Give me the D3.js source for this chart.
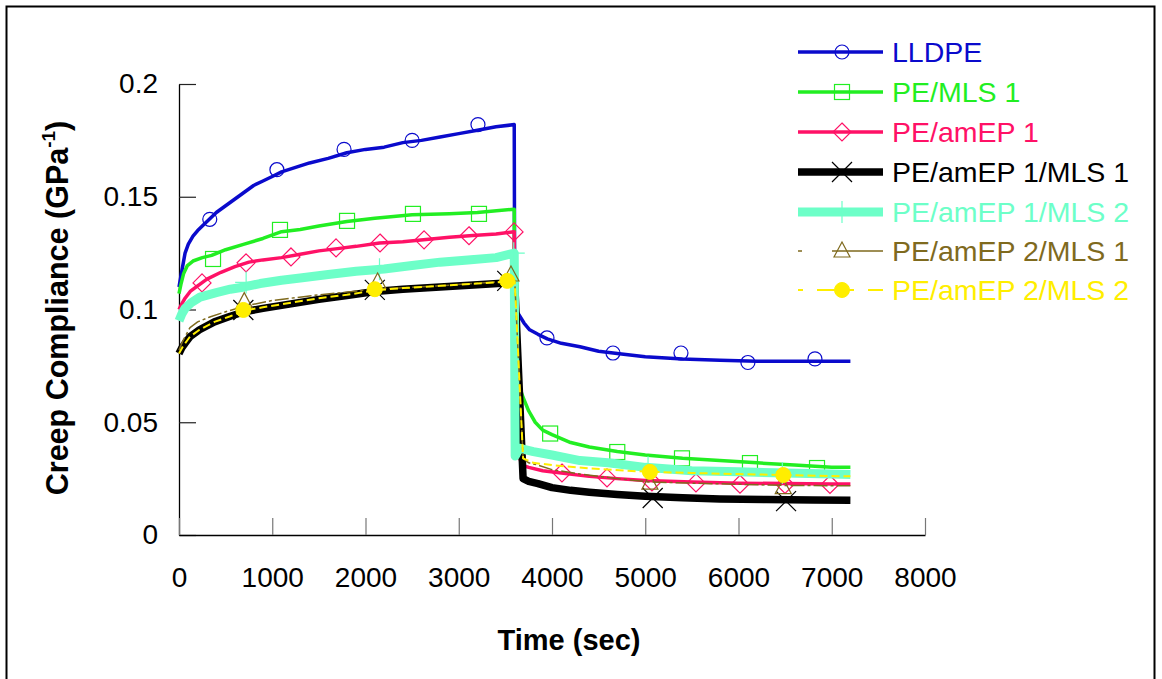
<!DOCTYPE html>
<html>
<head>
<meta charset="utf-8">
<script src="https://cdn.jsdelivr.net/npm/d3@7"></script>
<style>
  body { margin: 0; background: #fff; }
  svg { display: block; }
  text { font-family: "Liberation Sans", Arial, sans-serif; }
</style>
</head>
<body>
<svg id="chart" width="1162" height="679"></svg>
<script>
// Creep (0–3600 s) and recovery (3600–7200 s) compliance, [time s, GPa^-1]
const seriesNames = ["LLDPE", "PE/MLS 1", "PE/amEP 1", "PE/amEP 1/MLS 1",
                     "PE/amEP 1/MLS 2", "PE/amEP 2/MLS 1", "PE/amEP 2/MLS 2"];

const lldpe = [[0,0.110],[30,0.117],[65,0.125],[100,0.129],[150,0.1325],[200,0.135],[300,0.139],
  [400,0.143],[500,0.146],[600,0.149],[700,0.152],[800,0.155],[900,0.157],[1000,0.159],[1100,0.161],
  [1250,0.163],[1400,0.165],[1600,0.167],[1800,0.1695],[2000,0.171],[2200,0.172],[2400,0.174],
  [2600,0.175],[2800,0.1765],[3000,0.178],[3200,0.1795],[3400,0.181],[3595,0.182],
  [3600,0.101],[3640,0.098],[3700,0.094],[3760,0.091],[3850,0.089],[3950,0.087],[4100,0.085],
  [4300,0.0835],[4500,0.0815],[4700,0.0805],[5000,0.079],[5400,0.078],[5800,0.0775],[6200,0.077],
  [6800,0.077],[7200,0.077]];
const lldpeMarks = [[330,0.140],[1050,0.162],[1770,0.171],[2500,0.175],[3206,0.182],
  [3946,0.0874],[4654,0.0807],[5383,0.0807],[6101,0.0765],[6820,0.0781]];

const peMls1 = [[0,0.107],[20,0.111],[50,0.116],[90,0.1195],[150,0.1215],[250,0.123],[350,0.124],
  [500,0.1265],[700,0.129],[900,0.1315],[1100,0.1345],[1300,0.1355],[1500,0.137],[1800,0.139],
  [2100,0.1405],[2500,0.142],[2900,0.1425],[3200,0.143],[3595,0.1445],
  [3600,0.072],[3690,0.061],[3750,0.055],[3820,0.050],[3900,0.0465],[4000,0.0445],[4200,0.041],
  [4400,0.039],[4700,0.037],[5000,0.0355],[5400,0.034],[5800,0.033],[6200,0.032],[6600,0.031],
  [7000,0.030],[7200,0.030]];
const peMls1Marks = [[365,0.1224],[1083,0.1353],[1802,0.1393],[2509,0.1424],[3217,0.1424],
  [3980,0.045],[4700,0.0368],[5394,0.034],[6123,0.0319],[6842,0.0297]];

const peAmEp1 = [[0,0.100],[30,0.1025],[65,0.105],[120,0.108],[200,0.1105],[300,0.1135],[450,0.1165],
  [600,0.119],[750,0.121],[900,0.122],[1100,0.123],[1300,0.1245],[1500,0.126],[1700,0.127],
  [1900,0.128],[2150,0.1295],[2400,0.130],[2650,0.131],[2900,0.132],[3150,0.1328],[3400,0.1335],
  [3595,0.1345],
  [3605,0.040],[3680,0.031],[3750,0.030],[3900,0.0285],[4100,0.0275],[4400,0.026],[4700,0.025],
  [5000,0.0242],[5500,0.0235],[6000,0.023],[6500,0.0228],[7000,0.0226],[7200,0.0226]];
const peAmEp1Marks = [[247,0.1118],[719,0.1207],[1201,0.1233],[1684,0.1273],[2156,0.1295],
  [2628,0.1309],[3110,0.1327],[3593,0.1344],[4107,0.0275],[4590,0.0253],[5072,0.0235],
  [5544,0.0231],[6016,0.0225],[6499,0.0224],[6981,0.0224]];

const peAmEp1Mls1 = [[0,0.0805],[30,0.083],[65,0.085],[120,0.088],[220,0.091],[380,0.0945],
  [550,0.097],[700,0.099],[900,0.1005],[1200,0.1025],[1500,0.1045],[1800,0.1062],[2100,0.108],
  [2400,0.109],[2800,0.110],[3200,0.111],[3600,0.112],
  [3690,0.025],[3750,0.0238],[3850,0.0228],[4000,0.021],[4200,0.0198],[4400,0.019],[4700,0.018],
  [5000,0.0172],[5400,0.0165],[5800,0.016],[6300,0.0157],[6800,0.0155],[7200,0.0154]];
const peAmEp1Mls1Marks = [[690,0.0998],[2100,0.1087],[3520,0.1127],[5080,0.0164],[6510,0.0150]];

const peAmEp1Mls2 = [[0,0.095],[30,0.098],[65,0.1005],[130,0.103],[225,0.1055],[400,0.1075],
  [550,0.109],[700,0.110],[870,0.1115],[1100,0.113],[1300,0.114],[1600,0.1155],[1900,0.117],
  [2200,0.118],[2500,0.1195],[2800,0.121],[3100,0.122],[3400,0.123],[3595,0.125],
  [3605,0.035],[3650,0.0385],[3700,0.038],[3800,0.037],[4000,0.0355],[4300,0.033],[4600,0.032],
  [5000,0.030],[5500,0.0285],[6000,0.028],[6500,0.0275],[7000,0.027],[7200,0.0268]];
const peAmEp1Mls2Marks = [[720,0.112],[2150,0.1178],[3590,0.125],[5030,0.030],[6470,0.0275]];

const peAmEp2Mls1 = [[0,0.082],[40,0.086],[118,0.092],[200,0.0945],[330,0.0967],[500,0.099],
  [700,0.1015],[1000,0.104],[1500,0.1065],[2100,0.109],[2800,0.1105],[3500,0.1125],[3600,0.113],
  [3690,0.034],[3750,0.032],[3850,0.031],[4000,0.029],[4300,0.027],[4700,0.025],[5050,0.0235],
  [5500,0.023],[6000,0.0225],[6500,0.022],[7200,0.0218]];
const peAmEp2Mls1Marks = [[700,0.1035],[2130,0.1122],[3560,0.1153],[5050,0.023],[6480,0.021]];

const peAmEp2Mls2 = [[0,0.0805],[40,0.0835],[118,0.088],[220,0.091],[380,0.0945],[550,0.097],
  [700,0.0995],[900,0.101],[1200,0.103],[1500,0.105],[1800,0.1065],[2100,0.1085],[2400,0.1095],
  [2800,0.1105],[3200,0.1115],[3600,0.1125],
  [3690,0.034],[3800,0.032],[4000,0.031],[4400,0.0295],[4800,0.0285],[5050,0.028],[5500,0.0275],
  [6000,0.027],[6500,0.0266],[7200,0.026]];
const peAmEp2Mls2Marks = [[690,0.0998],[2100,0.109],[3520,0.1127],[5050,0.028],[6480,0.0266]];

const xTicks = [0, 1000, 2000, 3000, 4000, 5000, 6000, 7000, 8000];
const yTicks = [0, 0.05, 0.1, 0.15, 0.2];
const yTickLabels = ["0", "0.05", "0.1", "0.15", "0.2"];

// Drawing styles for each series
const series = [
  { name: seriesNames[0], data: lldpe,       marks: lldpeMarks,       color: "#0a0acc", width: 3.5, dash: null,   legendDash: null,          marker: "circle" },
  { name: seriesNames[1], data: peMls1,      marks: peMls1Marks,      color: "#22ee22", width: 3.5, dash: null,   legendDash: null,          marker: "square" },
  { name: seriesNames[2], data: peAmEp1,     marks: peAmEp1Marks,     color: "#ff1166", width: 3.5, dash: null,   legendDash: null,          marker: "diamond" },
  { name: seriesNames[3], data: peAmEp1Mls1, marks: peAmEp1Mls1Marks, color: "#000000", width: 7.5, dash: null,   legendDash: null,          marker: "x" },
  { name: seriesNames[4], data: peAmEp1Mls2, marks: peAmEp1Mls2Marks, color: "#6dffc8", width: 9,   dash: null,   legendDash: null,          marker: "plus" },
  { name: seriesNames[5], data: peAmEp2Mls1, marks: peAmEp2Mls1Marks, color: "#7f6a1e", width: 1.5, dash: "14,3,3,3", legendDash: "4,30,60",  marker: "triangle" },
  { name: seriesNames[6], data: peAmEp2Mls2, marks: peAmEp2Mls2Marks, color: "#ffee00", width: 2,   dash: "8,4",  legendDash: "5,14,18,14", marker: "dot" }
];

const svg = d3.select("#chart");

// Outer frame
svg.append("rect")
  .attr("x", 6.5).attr("y", 6.5).attr("width", 1148).attr("height", 700)
  .attr("fill", "none").attr("stroke", "#000").attr("stroke-width", 2);

const x = d3.scaleLinear().domain([0, 8000]).range([179, 925]);
const y = d3.scaleLinear().domain([0, 0.2]).range([535, 84]);

// Axes with inward ticks
const yAxis = svg.append("g").attr("transform", "translate(179,0)")
  .call(d3.axisLeft(y).tickValues(yTicks).tickSize(-17).tickSizeOuter(0).tickPadding(21)
    .tickFormat((d, i) => yTickLabels[i]));
yAxis.select(".domain").attr("stroke", "#000").attr("stroke-width", 1.3);
yAxis.selectAll(".tick line").attr("stroke", "#222").attr("stroke-width", 1.2);
yAxis.selectAll(".tick text").attr("font-size", 28).attr("fill", "#000")
  .attr("font-family", "Liberation Sans, Arial, sans-serif");

const xAxis = svg.append("g").attr("transform", "translate(0,535)")
  .call(d3.axisBottom(x).tickValues(xTicks).tickSize(-17).tickSizeOuter(0).tickPadding(32)
    .tickFormat(d3.format("d")));
xAxis.select(".domain").attr("stroke", "#000").attr("stroke-width", 1.6);
xAxis.selectAll(".tick line").attr("stroke", "#777").attr("stroke-width", 1.2);
xAxis.selectAll(".tick text").attr("font-size", 28).attr("fill", "#000")
  .attr("font-family", "Liberation Sans, Arial, sans-serif");

// Axis titles
svg.append("text")
  .attr("x", 569).attr("y", 650).attr("text-anchor", "middle")
  .attr("font-size", 29).attr("font-weight", "bold").text("Time (sec)");

const yTitle = svg.append("text")
  .attr("transform", "translate(68,308) rotate(-90)")
  .attr("text-anchor", "middle").attr("font-size", 30.5).attr("font-weight", "bold");
yTitle.append("tspan").text("Creep Compliance (GPa");
yTitle.append("tspan").attr("font-size", 19).attr("dy", -13).text("-1");
yTitle.append("tspan").attr("dy", 13).text(")");

// Marker shapes
function drawMarker(g, type, cx, cy, color) {
  switch (type) {
    case "circle":
      g.append("circle").attr("cx", cx).attr("cy", cy).attr("r", 7)
        .attr("fill", "none").attr("stroke", color).attr("stroke-width", 1.2);
      break;
    case "square":
      g.append("rect").attr("x", cx - 7.5).attr("y", cy - 7.5).attr("width", 15).attr("height", 15)
        .attr("fill", "none").attr("stroke", color).attr("stroke-width", 1.2);
      break;
    case "diamond":
      g.append("path").attr("d", `M${cx},${cy - 9}L${cx + 9},${cy}L${cx},${cy + 9}L${cx - 9},${cy}Z`)
        .attr("fill", "none").attr("stroke", color).attr("stroke-width", 1.2);
      break;
    case "x":
      g.append("path").attr("d", `M${cx - 10},${cy - 10}L${cx + 10},${cy + 10}M${cx - 10},${cy + 10}L${cx + 10},${cy - 10}`)
        .attr("fill", "none").attr("stroke", color).attr("stroke-width", 1.2);
      break;
    case "plus":
      g.append("path").attr("d", `M${cx},${cy - 11}L${cx},${cy + 11}M${cx - 11},${cy}L${cx + 11},${cy}`)
        .attr("fill", "none").attr("stroke", color).attr("stroke-width", 1.2);
      break;
    case "triangle":
      g.append("path").attr("d", `M${cx},${cy - 9}L${cx + 8},${cy + 6}L${cx - 8},${cy + 6}Z`)
        .attr("fill", "none").attr("stroke", color).attr("stroke-width", 1.2);
      break;
    case "dot":
      g.append("circle").attr("cx", cx).attr("cy", cy).attr("r", 7.5)
        .attr("fill", color).attr("stroke", color).attr("stroke-width", 1);
      break;
  }
}

const line = d3.line().x(d => x(d[0])).y(d => y(d[1]));

// Series lines and their markers, drawn in legend order
series.forEach(s => {
  const g = svg.append("g");
  g.append("path").datum(s.data).attr("d", line)
    .attr("fill", "none").attr("stroke", s.color).attr("stroke-width", s.width)
    .attr("stroke-linejoin", "round").attr("stroke-dasharray", s.dash);
  s.marks.forEach(m => drawMarker(g, s.marker, x(m[0]), y(m[1]), s.color));
});

// Legend
const legendRows = [52, 92, 132, 172, 212, 251, 290];
series.forEach((s, i) => {
  const g = svg.append("g");
  const ly = legendRows[i];
  g.append("line").attr("x1", 798).attr("x2", 883).attr("y1", ly).attr("y2", ly)
    .attr("stroke", s.color).attr("stroke-width", s.width).attr("stroke-dasharray", s.legendDash);
  drawMarker(g, s.marker, 842, ly, s.color);
  g.append("text").attr("x", 892).attr("y", ly).attr("dy", "0.36em")
    .attr("font-size", 28.5).attr("fill", s.color).text(s.name);
});
</script>
</body>
</html>
